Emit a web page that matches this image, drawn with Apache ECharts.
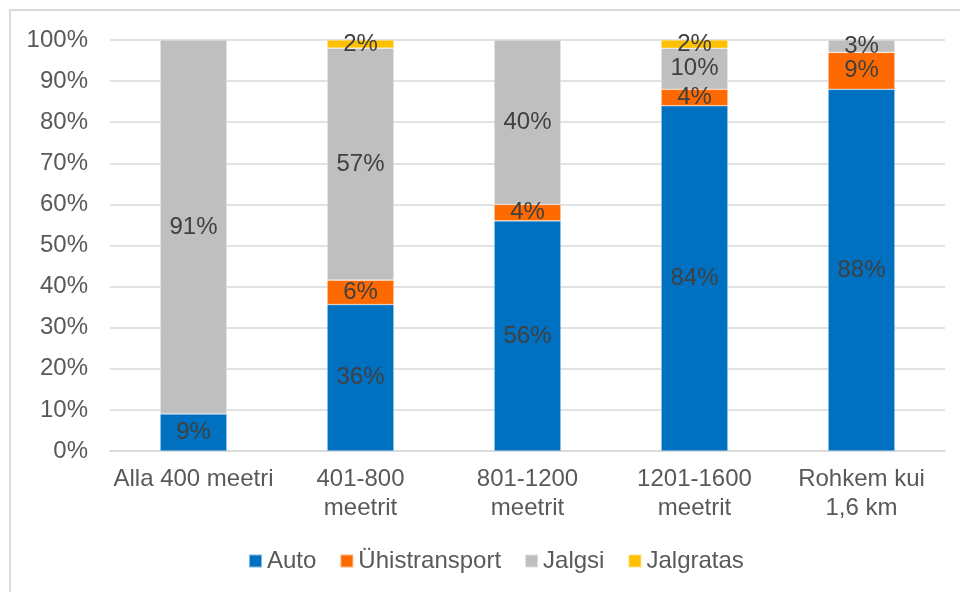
<!DOCTYPE html>
<html>
<head>
<meta charset="utf-8">
<script src="https://cdn.jsdelivr.net/npm/echarts@6/dist/echarts.min.js"></script>
<style>
  html, body { margin: 0; padding: 0; background: #fff; }
  #chart { width: 960px; height: 592px; }
</style>
</head>
<body>
<div id="chart"></div>
<script>
// Distance bands (x axis)
const categories = ['Alla 400 meetri', '401-800\nmeetrit', '801-1200\nmeetrit', '1201-1600\nmeetrit', 'Rohkem kui\n1,6 km'];
// Share of trips by mode, percent (null = no trips)
const auto = [9, 36, 56, 84, 88];
const uhistransport = [null, 6, 4, 4, 9];
const jalgsi = [91, 57, 40, 10, 3];
const jalgratas = [null, 2, null, 2, null];
const yTicks = ['0%', '10%', '20%', '30%', '40%', '50%', '60%', '70%', '80%', '90%', '100%'];

const seriesDefs = [
  { name: 'Auto', values: auto, color: '#0070C0' },
  { name: 'Ühistransport', values: uhistransport, color: '#FF6A00' },
  { name: 'Jalgsi', values: jalgsi, color: '#BFBFBF' },
  { name: 'Jalgratas', values: jalgratas, color: '#FFC000' }
];

// 100% stacked: each column is scaled to its own total
const totals = categories.map((_, i) =>
  seriesDefs.reduce((s, d) => s + (d.values[i] || 0), 0));

const font = 'Liberation Sans, Arial, sans-serif';
const fs = 24;

const chart = echarts.init(document.getElementById('chart'), null, { renderer: 'canvas' });

chart.setOption({
  animation: false,
  backgroundColor: '#fff',
  textStyle: { fontFamily: font },
  graphic: [{
    type: 'rect',
    shape: { x: 10, y: 10, width: 980, height: 620 },
    style: { fill: 'none', stroke: '#D9D9D9', lineWidth: 2 },
    silent: true
  }],
  grid: { left: 110, right: 15, top: 40, bottom: 141 },
  legend: {
    left: 243,
    top: 544,
    itemWidth: 13,
    itemHeight: 13,
    itemGap: 23,
    icon: 'rect',
    textStyle: { fontFamily: font, fontSize: fs, color: '#595959' },
    data: seriesDefs.map(d => d.name)
  },
  xAxis: {
    type: 'category',
    data: categories,
    axisLine: { lineStyle: { color: '#D9D9D9', width: 1.5 } },
    axisTick: { show: false },
    axisLabel: {
      fontFamily: font, fontSize: fs, color: '#595959',
      lineHeight: 29, margin: 14, interval: 0
    }
  },
  yAxis: {
    type: 'value',
    min: 0, max: 100, interval: 10,
    axisLine: { show: false },
    axisTick: { show: false },
    splitLine: { lineStyle: { color: '#D9D9D9', width: 1.5 } },
    axisLabel: {
      fontFamily: font, fontSize: fs, color: '#595959', margin: 22,
      formatter: v => yTicks[Math.round(v / 10)]
    }
  },
  series: seriesDefs.map(d => ({
    name: d.name,
    type: 'bar',
    stack: 'share',
    barWidth: '40%',
    itemStyle: { color: d.color, borderColor: 'rgba(255,255,255,0.5)', borderWidth: 0.6 },
    label: {
      show: true,
      position: 'inside',
      fontFamily: font,
      fontSize: fs,
      color: '#404040',
      formatter: p => d.values[p.dataIndex] + '%'
    },
    data: d.values.map((v, i) => v == null ? null : v / totals[i] * 100)
  }))
});
</script>
</body>
</html>
